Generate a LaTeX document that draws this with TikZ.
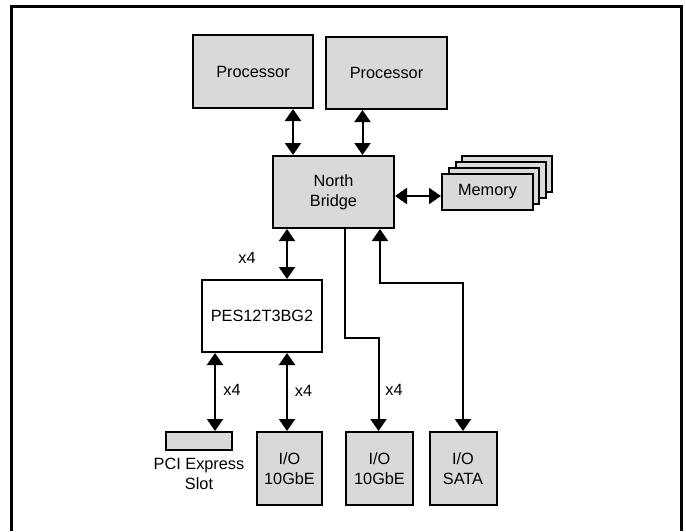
\documentclass[tikz,border=0pt]{standalone}
\usepackage{fontspec}
\setmainfont{Liberation Sans}
\usetikzlibrary{arrows.meta}
\definecolor{boxgray}{RGB}{217,217,217}
\begin{document}
\begin{tikzpicture}[x=1pt,y=-1pt,
  box/.style={draw=black,line width=2pt,fill=boxgray,inner sep=0pt,align=center,
    font=\fontsize{16.3}{20}\selectfont},
  wbox/.style={box,fill=white},
  lbl/.style={inner sep=0pt,font=\fontsize{16.3}{20}\selectfont,align=center},
  tip/.style={line width=2pt,-{Triangle[width=16pt,length=12pt]}},
  bitip/.style={line width=2pt,{Triangle[width=16pt,length=12pt]}-{Triangle[width=16pt,length=12pt]}}
]
\useasboundingbox (0,0) rectangle (686,531);
\draw[line width=3pt] (11.5,531) -- (11.5,6) -- (681,6) -- (681,531);

% boxes
\node[box,minimum width=120pt,minimum height=73pt] (p1) at (253,71.5) {Processor};
\node[box,minimum width=121pt,minimum height=72pt] (p2) at (386.5,73) {Processor};
\node[box,minimum width=121pt,minimum height=72pt] (nb) at (333.5,192) {North\\Bridge};
\node[box,minimum width=90pt,minimum height=36pt] (m4) at (507,174) {};
\node[box,minimum width=90pt,minimum height=36pt] (m3) at (500.5,180) {};
\node[box,minimum width=90pt,minimum height=36pt] (m2) at (494,186) {};
\node[box,minimum width=91pt,minimum height=36pt] (mem) at (487.5,192) {Memory};
\node[wbox,minimum width=120pt,minimum height=72pt] (pes) at (262,316) {PES12T3BG2};
\node[box,minimum width=66pt,minimum height=18pt] (slot) at (199,441) {};
\node[lbl,anchor=north] (slotlbl) at (199,458) {PCI Express\\Slot};
\node[box,minimum width=65pt,minimum height=73pt] (io1) at (289.5,468.5) {I/O\\10GbE};
\node[box,minimum width=67pt,minimum height=73pt] (io2) at (379.5,468.5) {I/O\\10GbE};
\node[box,minimum width=67pt,minimum height=73pt] (io3) at (463,468.5) {I/O\\SATA};

% helper coordinates
\coordinate (a1) at (293,0);
\coordinate (a2) at (362.5,0);
\coordinate (a3) at (287,0);
\coordinate (a4) at (215,0);
\coordinate (a5) at (345,0);
\coordinate (b5) at (378.5,337.5);
\coordinate (a6) at (380,0);
\coordinate (b6) at (463,282.5);
\coordinate (mrow) at (0,196);

% connectors
\draw[bitip] (p1.south -| a1) -- (nb.north -| a1);
\draw[bitip] (p2.south -| a2) -- (nb.north -| a2);
\draw[bitip] (nb.east |- mrow) -- (mem.west |- mrow);
\draw[bitip] (nb.south -| a3) -- (pes.north -| a3);
\draw[bitip] (pes.south -| a4) -- (slot.north -| a4);
\draw[bitip] (pes.south -| a3) -- (io1.north -| a3);
\draw[tip] (nb.south -| a5) |- (b5) -- (io2.north -| b5);
\draw[bitip] (nb.south -| a6) |- (b6) -- (io3.north);

% labels
\node[lbl] (l1) at (247,258) {x4};
\node[lbl] (l2) at (232,390) {x4};
\node[lbl] (l3) at (303.5,390.5) {x4};
\node[lbl] (l4) at (394,390) {x4};
\end{tikzpicture}
\end{document}
